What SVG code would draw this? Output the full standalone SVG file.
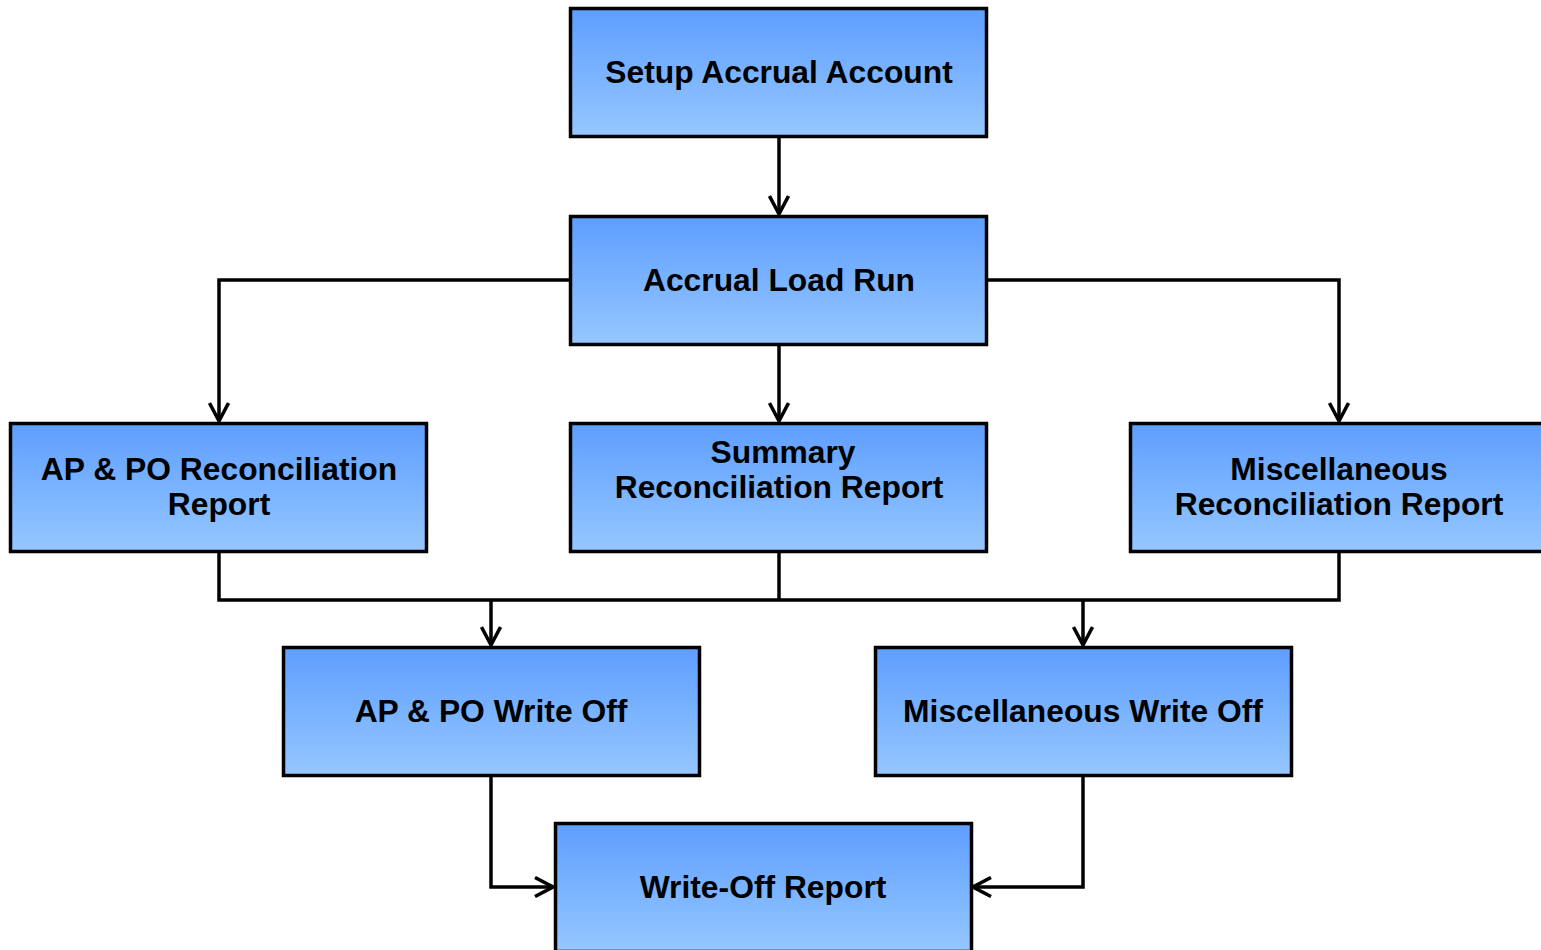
<svg xmlns="http://www.w3.org/2000/svg" width="1541" height="950" viewBox="0 0 1541 950">
<defs>
<linearGradient id="g" x1="0" y1="0" x2="0" y2="1">
<stop offset="0" stop-color="#5e9eff"/>
<stop offset="1" stop-color="#95c7ff"/>
</linearGradient>
<marker id="a" viewBox="0 0 22 22" refX="19" refY="11" markerWidth="22" markerHeight="22" markerUnits="userSpaceOnUse" orient="auto">
<path d="M1,1.5 L19,11 L1,20.5" fill="none" stroke="#000" stroke-width="3.5"/>
</marker>
<style>
.b{fill:url(#g);stroke:#000;stroke-width:3.5}
.t{font-family:"Liberation Sans",Arial,sans-serif;font-weight:bold;font-size:31.8px;fill:#000;text-anchor:middle}
.c{fill:none;stroke:#000;stroke-width:3.5}
</style>
</defs>
<rect width="1541" height="950" fill="#fff"/>
<g id="connectors">
<path class="c" d="M779,137 V214" marker-end="url(#a)"/>
<path class="c" d="M570,280 H219 V421" marker-end="url(#a)"/>
<path class="c" d="M779,345 V421" marker-end="url(#a)"/>
<path class="c" d="M987,280 H1339 V421" marker-end="url(#a)"/>
<path class="c" d="M219,552 V600 H1339 V552"/>
<path class="c" d="M779,552 V600"/>
<path class="c" d="M491,600 V645" marker-end="url(#a)"/>
<path class="c" d="M1083,600 V645" marker-end="url(#a)"/>
<path class="c" d="M491,776 V887 H553" marker-end="url(#a)"/>
<path class="c" d="M1083,776 V887 H973" marker-end="url(#a)"/>
</g>
<g id="setup">
<rect class="b" x="570.5" y="8.5" width="416" height="128"/>
<text class="t" x="779" y="83">Setup Accrual Account</text>
</g>
<g id="load">
<rect class="b" x="570.5" y="216.5" width="416" height="128"/>
<text class="t" x="779" y="291">Accrual Load Run</text>
</g>
<g id="appo-rec">
<rect class="b" x="10.5" y="423.5" width="416" height="128"/>
<text class="t" x="219" y="480">AP &amp; PO Reconciliation</text>
<text class="t" x="219" y="515">Report</text>
</g>
<g id="summary-rec">
<rect class="b" x="570.5" y="423.5" width="416" height="128"/>
<text class="t" x="783" y="463">Summary</text>
<text class="t" x="779" y="498">Reconciliation Report</text>
</g>
<g id="misc-rec">
<rect class="b" x="1130.5" y="423.5" width="416" height="128"/>
<text class="t" x="1339" y="480">Miscellaneous</text>
<text class="t" x="1339" y="515">Reconciliation Report</text>
</g>
<g id="appo-wo">
<rect class="b" x="283.5" y="647.5" width="416" height="128"/>
<text class="t" x="491" y="722">AP &amp; PO Write Off</text>
</g>
<g id="misc-wo">
<rect class="b" x="875.5" y="647.5" width="416" height="128"/>
<text class="t" x="1083" y="722">Miscellaneous Write Off</text>
</g>
<g id="wo-report">
<rect class="b" x="555.5" y="823.5" width="416" height="128"/>
<text class="t" x="763" y="898">Write-Off Report</text>
</g>
</svg>
